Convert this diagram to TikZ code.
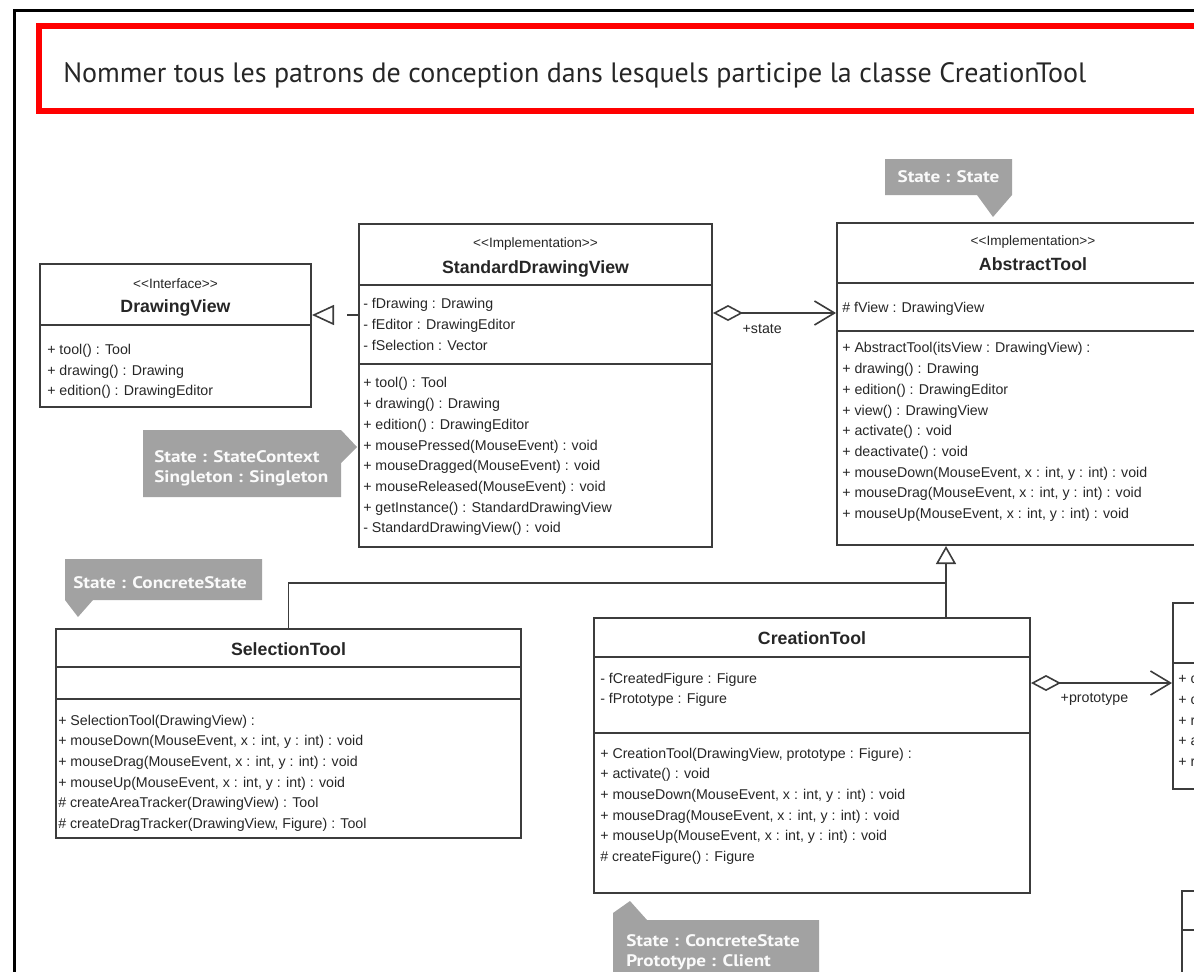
\documentclass[tikz,border=0pt]{standalone}
\usepackage{fontspec}
\setmainfont{Liberation Sans}
\newfontfamily\notefont{PT Sans}[FakeStretch=1.15]
\newfontfamily\titlefont{PT Sans}
\usetikzlibrary{arrows.meta,fit}

\definecolor{trait}{HTML}{3C3C3C}
\definecolor{note}{HTML}{A2A2A2}
\definecolor{rouge}{HTML}{FF0000}

\newcommand\stereotype[1]{<\kern0pt<#1>\kern0pt>}

\tikzset{
  classe/.style={draw=trait, line width=1.5pt, inner sep=0pt},
  separe/.style={draw=trait, line width=1.5pt},
  membre/.style={anchor=north west, yshift=6.8pt, inner sep=0pt, align=left, text=black!85,
    font=\fontsize{10.65}{15.5}\selectfont, execute at begin node=\strut},
  titre/.style={anchor=base, inner sep=0pt, text=black!85, font=\bfseries\fontsize{13.3}{15}\selectfont},
  stereo/.style={anchor=base, inner sep=0pt, text=black!85, font=\fontsize{10.2}{12}\selectfont},
  etiq/.style={inner sep=0pt, text=black!85, font=\fontsize{10.65}{12}\selectfont},
  bulle/.style={inner sep=0pt, align=left, text=white!95!note, font=\notefont\bfseries\fontsize{12.5}{15}\selectfont},
  lien/.style={draw=trait, line width=1.2pt},
  herite/.style={lien, -{Triangle[open, length=13.5pt, width=15pt]}},
  realise/.style={lien, dash pattern=on 8.25pt off 11.25pt, -{Triangle[open, length=16.5pt, width=15pt]}},
  agreg/.style={lien, {Diamond[open, length=22.5pt, width=12pt]}-{Straight Barb[length=15pt, width=18pt]}},
}

\begin{document}
\begin{tikzpicture}[x=0.75pt, y=-0.75pt]
  \useasboundingbox (0,0) rectangle (1194,971);
  \clip (0,0) rectangle (1194,971);

  % cadre et consigne
  \draw[line width=2.25pt] (14,1000) -- (14,10) -- (1220,10);
  \draw[rouge, line width=4.5pt] (1220,26) -- (39,26) -- (39,111) -- (1220,111);
  \node[anchor=base west, inner sep=0pt, text=black!85, font=\titlefont\fontsize{21}{24}\selectfont] (consigne) at (63,82) {Nommer tous les patrons de conception dans lesquels participe la classe CreationTool};

  % DrawingView
  \node[classe, fit={(40,264) (311,407)}] (dv) {};
  \draw[separe] (40,325) -- (311,325);
  \node[stereo] (dvS) at (175.5,288) {\stereotype{Interface}};
  \node[titre] (dvT) at (175.5,312) {DrawingView};
  \node[membre] (dvM) at (47,353) {+ tool() : Tool\\+ drawing() : Drawing\\+ edition() : DrawingEditor};

  % StandardDrawingView
  \node[classe, fit={(359,224) (712,547)}] (sdv) {};
  \draw[separe] (359,285) -- (712,285);
  \draw[separe] (359,364) -- (712,364);
  \node[stereo] (sdvS) at (535.5,247.5) {\stereotype{Implementation}};
  \node[titre] (sdvT) at (535.5,273) {StandardDrawingView};
  \node[membre] (sdvA) at (363,307.5) {- fDrawing : Drawing\\- fEditor : DrawingEditor\\- fSelection : Vector};
  \node[membre] (sdvM) at (363,386.5) {+ tool() : Tool\\+ drawing() : Drawing\\+ edition() : DrawingEditor\\+ mousePressed(MouseEvent) : void\\+ mouseDragged(MouseEvent) : void\\+ mouseReleased(MouseEvent) : void\\+ getInstance() : StandardDrawingView\\- StandardDrawingView() : void};

  % AbstractTool
  \node[classe, fit={(837,223) (1229,545)}] (at) {};
  \draw[separe] (837,283) -- (1229,283);
  \draw[separe] (837,331) -- (1229,331);
  \node[stereo] (atS) at (1033,245) {\stereotype{Implementation}};
  \node[titre] (atT) at (1033,270) {AbstractTool};
  \node[membre] (atA) at (842,306.5) {\# fView : DrawingView};
  \node[membre] (atM) at (842,351.5) {+ AbstractTool(itsView : DrawingView) :\\+ drawing() : Drawing\\+ edition() : DrawingEditor\\+ view() : DrawingView\\+ activate() : void\\+ deactivate() : void\\+ mouseDown(MouseEvent, x : int, y : int) : void\\+ mouseDrag(MouseEvent, x : int, y : int) : void\\+ mouseUp(MouseEvent, x : int, y : int) : void};

  % SelectionTool
  \node[classe, fit={(56,629) (521,838)}] (st) {};
  \draw[separe] (56,667) -- (521,667);
  \draw[separe] (56,699) -- (521,699);
  \node[titre] (stT) at (288.5,655) {SelectionTool};
  \node[membre] (stM) at (58,723.5) {+ SelectionTool(DrawingView) :\\+ mouseDown(MouseEvent, x : int, y : int) : void\\+ mouseDrag(MouseEvent, x : int, y : int) : void\\+ mouseUp(MouseEvent, x : int, y : int) : void\\\# createAreaTracker(DrawingView) : Tool\\\# createDragTracker(DrawingView, Figure) : Tool};

  % CreationTool
  \node[classe, fit={(594,618) (1030,893)}] (ct) {};
  \draw[separe] (594,657) -- (1030,657);
  \draw[separe] (594,733) -- (1030,733);
  \node[titre] (ctT) at (812,644) {CreationTool};
  \node[membre] (ctA) at (600,681.5) {- fCreatedFigure : Figure\\- fPrototype : Figure};
  \node[membre] (ctM) at (600,756.5) {+ CreationTool(DrawingView, prototype : Figure) :\\+ activate() : void\\+ mouseDown(MouseEvent, x : int, y : int) : void\\+ mouseDrag(MouseEvent, x : int, y : int) : void\\+ mouseUp(MouseEvent, x : int, y : int) : void\\\# createFigure() : Figure};

  % classes coupees a droite
  \node[classe, fit={(1173,603) (1320,789)}] (proto) {};
  \draw[separe] (1173,663) -- (1320,663);
  \node[membre] (protoM) at (1178,684.5) {+ c\\+ c\\+ r\\+ a\\+ r};
  \node[classe, fit={(1182,891) (1320,1010)}] (autre) {};
  \draw[separe] (1182,930) -- (1320,930);

  % relations
  \draw[realise] (sdv.west |- 0,315) -- (dv.east |- 0,315);
  \draw[agreg] (sdv.east |- 0,313) -- node[etiq, pos=0.4, below=8pt] (lState) {+state} (at.west |- 0,313);
  \draw[agreg] (ct.east |- 0,683) -- node[etiq, pos=0.45, below=7pt] (lProto) {+prototype} (proto.west |- 0,683);
  \coordinate (jonction) at (946,583);
  \draw[lien] (st.north) |- (jonction);
  \draw[herite] (ct.north -| jonction) -- (jonction) -- (at.south -| jonction);

  % notes
  \fill[note] (885,159) -- (1012,159) -- (1012,195) -- (993,217) -- (977,195) -- (885,195) -- cycle;
  \node[bulle] (nState) at (948.5,177) {State : State};
  \fill[note] (143,430) -- (341,430) -- (357,447) -- (341,463) -- (341,497) -- (143,497) -- cycle;
  \node[bulle, anchor=base west] (nContexte) at (154,482) {State : StateContext\\Singleton : Singleton};
  \fill[note] (65,559) -- (262,559) -- (262,600) -- (93,600) -- (78,617) -- (65,600) -- cycle;
  \node[bulle, anchor=base west] (nSelection) at (73,588) {State : ConcreteState};
  \fill[note] (613,920) -- (613,913) -- (630,901) -- (647,920) -- (819,920) -- (819,1000) -- (613,1000) -- cycle;
  \node[bulle, anchor=base west] (nCreation) at (626,966) {State : ConcreteState\\Prototype : Client};
\end{tikzpicture}
\end{document}
